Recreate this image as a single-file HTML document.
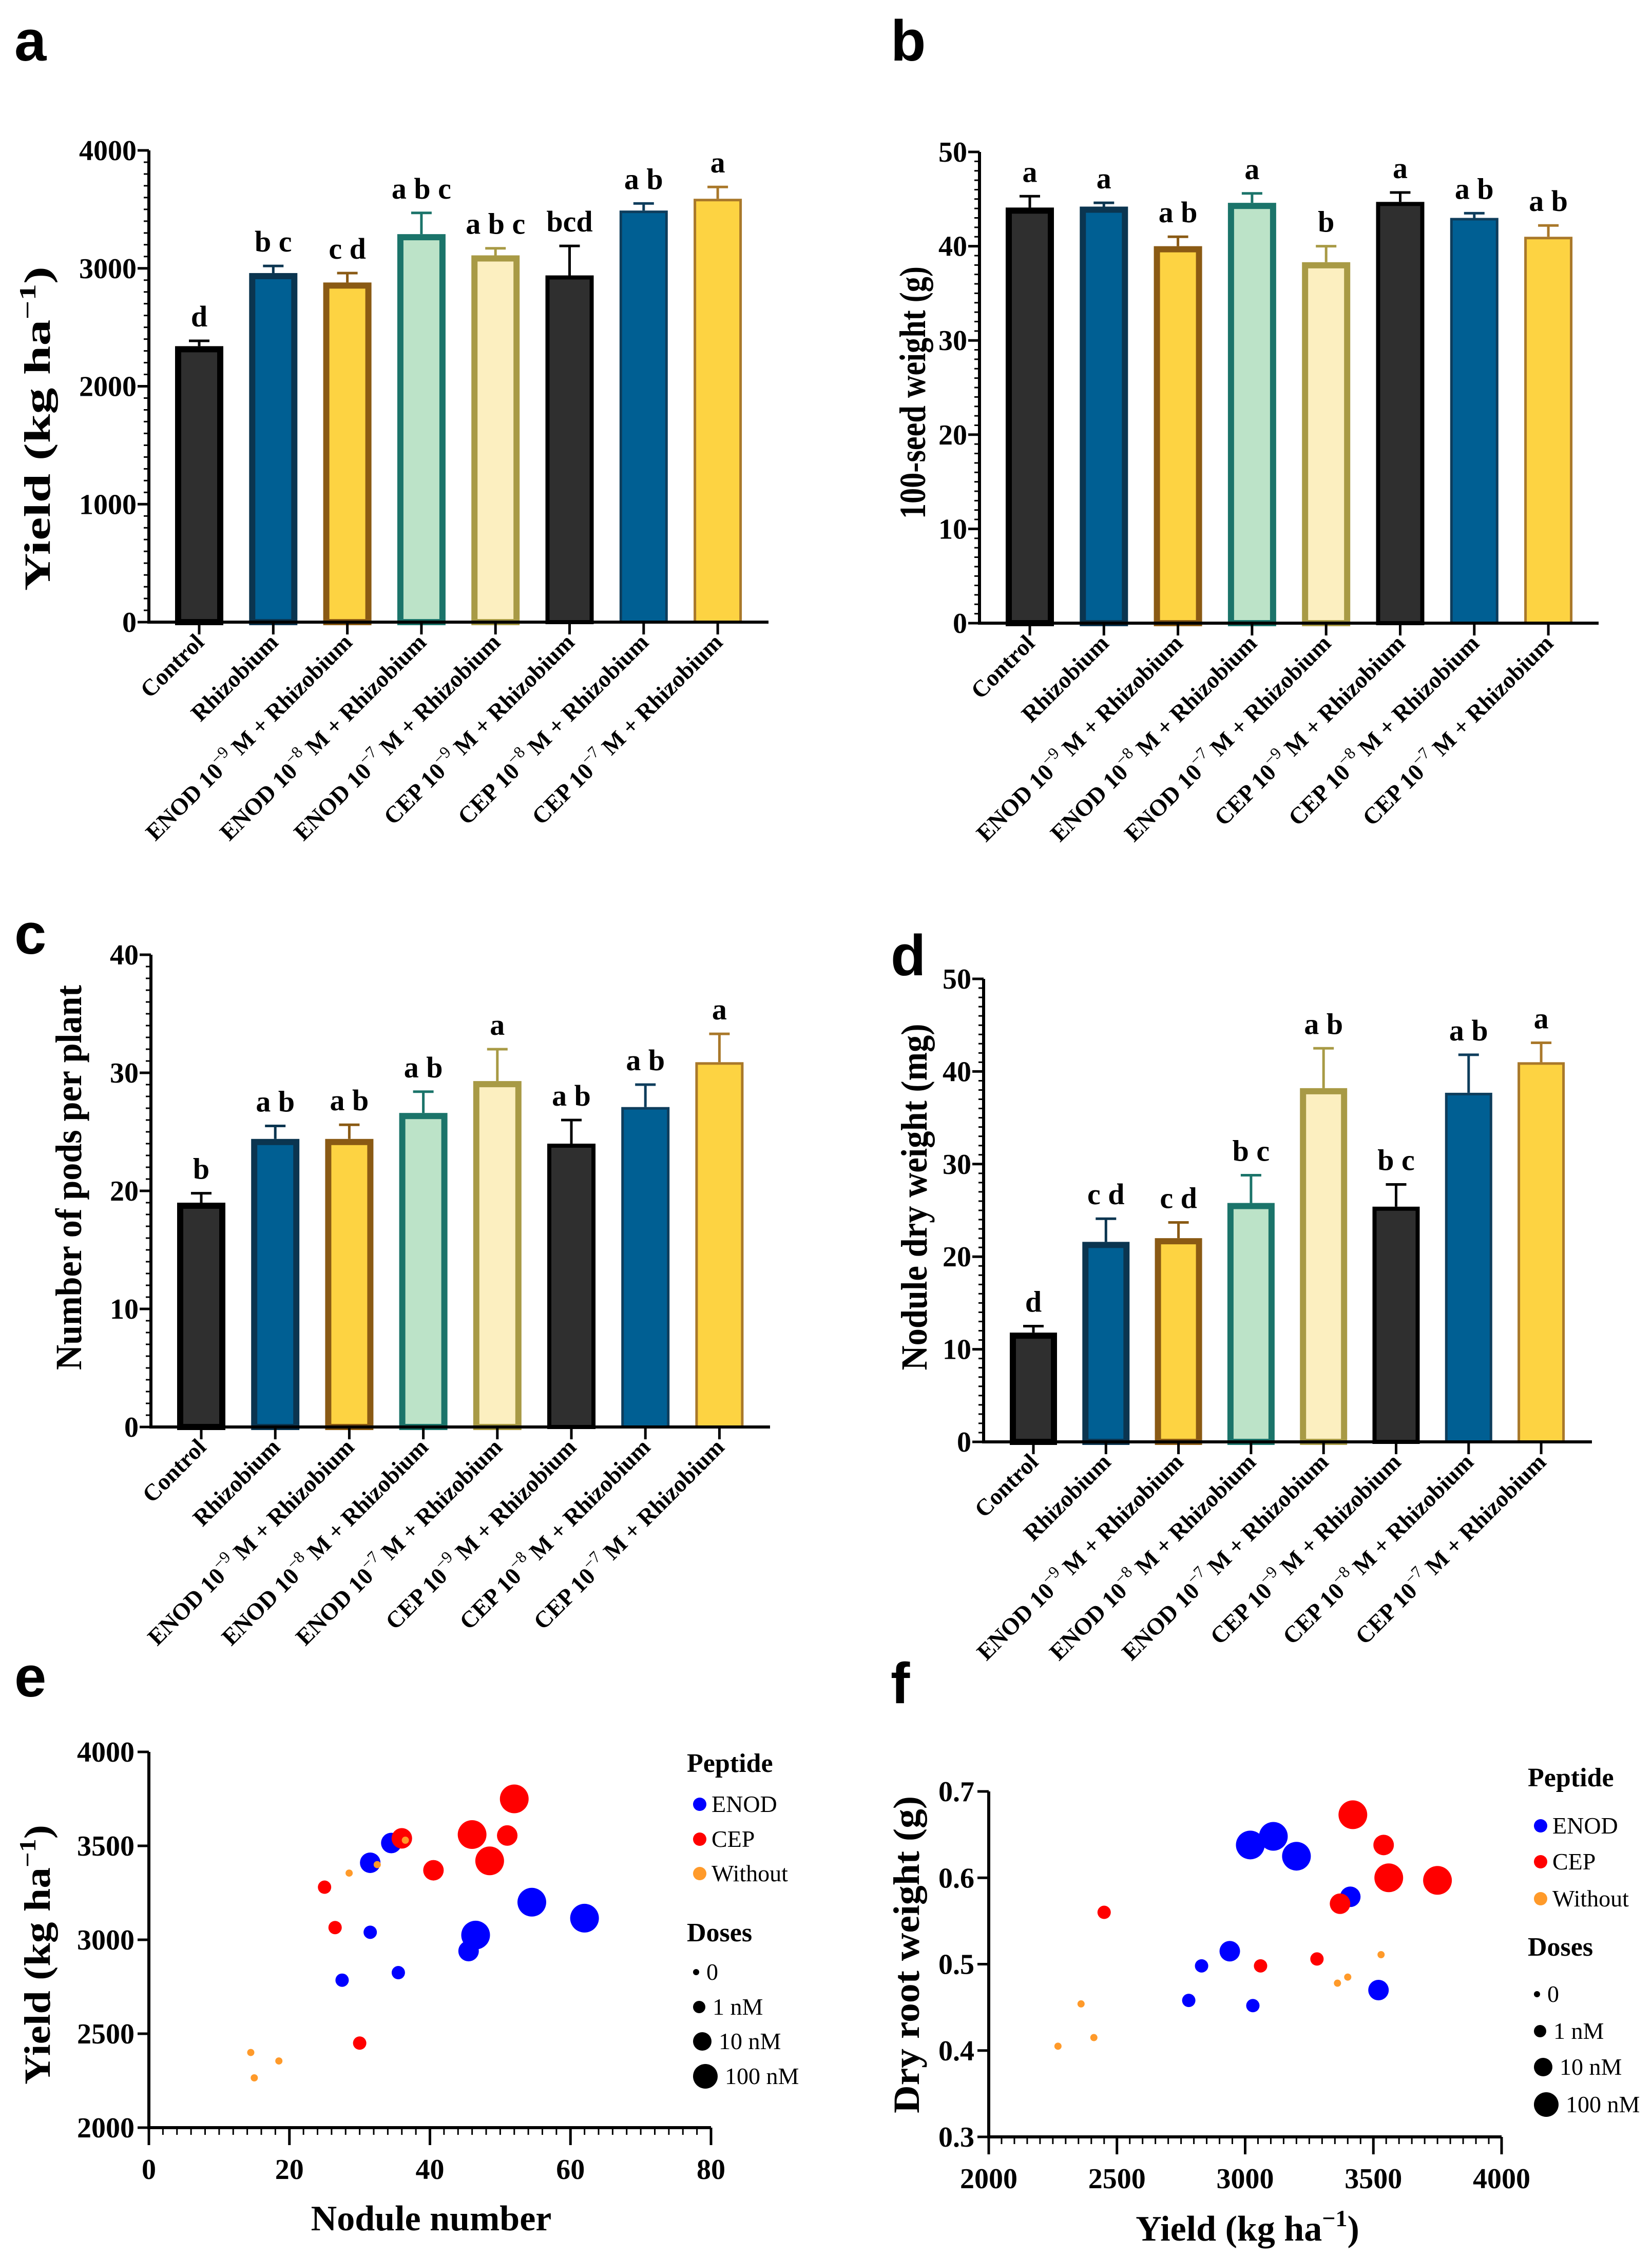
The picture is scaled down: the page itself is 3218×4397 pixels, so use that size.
<!DOCTYPE html>
<html><head><meta charset="utf-8"><style>
html,body{margin:0;padding:0;background:#fff;}
svg{display:block;}
text{font-family:"Liberation Serif",serif;}
</style></head><body>
<svg id="fig" xmlns="http://www.w3.org/2000/svg" width="3218" height="4397" viewBox="0 0 3218 4397"></svg>
<script>
// ---------- DATA ----------
const categories = ["Control","Rhizobium","ENOD|-9","ENOD|-8","ENOD|-7","CEP|-9","CEP|-8","CEP|-7"];
const yieldMeans = [2340,2960,2880,3290,3110,2940,3490,3590];
const yieldErr = [45,60,80,180,60,250,60,100];
const yieldLetters = ["d","b c","c d","a b c","a b c","bcd","a b","a"];
const seedMeans = [44.1,44.2,40.0,44.6,38.3,44.7,43.0,41.0];
const seedErr = [1.2,0.4,1.0,1.0,1.7,1.0,0.5,1.2];
const seedLetters = ["a","a","a b","a","b","a","a b","a b"];
const podMeans = [19.0,24.4,24.4,26.6,29.3,24.0,27.1,30.9];
const podErr = [0.8,1.1,1.2,1.8,2.7,2.0,1.9,2.4];
const podLetters = ["b","a b","a b","a b","a","a b","a b","a"];
const noduleMeans = [11.8,21.6,22.0,25.8,38.2,25.4,37.7,41.0];
const noduleErr = [0.7,2.5,1.7,3.0,4.3,2.4,4.1,2.1];
const noduleLetters = ["d","c d","c d","b c","a b","b c","a b","a"];
const yieldTicks = [0,1000,2000,3000,4000];
const seedTicks = [0,10,20,30,40,50];
const podTicks = [0,10,20,30,40];
const noduleTicks = [0,10,20,30,40,50];

// scatter e
const eNodule = [34.5,31.5,54.5,62,46.5,45.5,31.5,35.5,27.5, 52,46,51,36,48.5,40.5,25,26.5,30, 14.5,18.5,15,28.5,32.5,36.5];
const eYield  = [3515,3410,3200,3115,3025,2940,3040,2825,2785, 3750,3560,3555,3540,3420,3370,3280,3065,2450, 2400,2355,2265,3355,3400,3530];
const ePeptide = ["ENOD","ENOD","ENOD","ENOD","ENOD","ENOD","ENOD","ENOD","ENOD","CEP","CEP","CEP","CEP","CEP","CEP","CEP","CEP","CEP","Without","Without","Without","Without","Without","Without"];
const eDose = [10,10,100,100,100,10,1,1,1, 100,100,10,10,100,10,1,1,1, 0,0,0,0,0,0];
const eXTicks = [0,20,40,60,80];
const eYTicks = [2000,2500,3000,3500,4000];
// scatter f
const fYield = [3020,3110,3200,3410,2940,2830,2780,3030,3520, 3420,3540,3560,3750,3370,2450,3060,3280, 2360,2270,2410,3360,3400,3530];
const fRoot  = [0.638,0.648,0.625,0.578,0.515,0.498,0.458,0.452,0.470, 0.673,0.638,0.600,0.597,0.570,0.560,0.498,0.506, 0.454,0.405,0.415,0.478,0.485,0.511];
const fPeptide = ["ENOD","ENOD","ENOD","ENOD","ENOD","ENOD","ENOD","ENOD","ENOD","CEP","CEP","CEP","CEP","CEP","CEP","CEP","CEP","Without","Without","Without","Without","Without","Without"];
const fDose = [100,100,100,10,10,1,1,1,10, 100,10,100,100,10,1,1,1, 0,0,0,0,0,0];
const fXTicks = [2000,2500,3000,3500,4000];
const fYTicks = [0.3,0.4,0.5,0.6,0.7];

// ---------- STYLE ----------
const NS = "http://www.w3.org/2000/svg";
const svg = document.getElementById("fig");
const fills = ['#2f2f2f','#005f93','#fdd342','#bce3c8','#fcefc0','#2f2f2f','#005f93','#fdd342'];
const strokes = ['#000000','#0b3550','#8a5a14','#1b746a','#a89a45','#000000','#0e3d5c','#a9782a'];
const strokeW = [12,12,12,12,12,8,5,5];
const pepColor = {ENOD:'#0000ff', CEP:'#ff0000', Without:'#ff9a2a'};
const doseR = {0:7,1:13,10:20,100:28};

function mk(tag, attrs, parent){
  const el = document.createElementNS(NS, tag);
  for (const k in attrs) el.setAttribute(k, attrs[k]);
  (parent||svg).appendChild(el);
  return el;
}
function txt(str, attrs, parent){
  const t = mk('text', attrs, parent);
  t.textContent = str;
  return t;
}

function panelLetter(ch, x, y){
  const t = txt(ch, {x:x, y:y, 'font-size':112, 'font-weight':'bold', style:'font-family:"Liberation Sans",sans-serif'});
  
  
}

function barPanel(id, means, errs, letters, ticks, vmax, minorStep, g, ytitle){
  const grp = mk('g', {});
  
  
  const yS = v => g.yBot - (v/vmax)*(g.yBot - g.yTop);
  const xS = i => g.cx0 + i*g.step;
  for (let i=0;i<means.length;i++){
    const cx = xS(i), top = yS(means[i]), et = yS(means[i]+errs[i]);
    const sw = strokeW[i];
    const er = mk('path', {d:`M${cx},${top} V${et} M${cx-20},${et} H${cx+20}`, stroke:strokes[i], 'stroke-width':5, fill:'none'}, grp);
    
    
    const r = mk('rect', {x:cx-g.bw/2+sw/2, y:top+sw/2, width:g.bw-sw, height:Math.max(0,g.yBot-top-sw/2), fill:fills[i], stroke:strokes[i], 'stroke-width':sw}, grp);
    
    
    const lt = txt(letters[i], {x:cx, y:et-28, 'text-anchor':'middle', 'font-size':58, 'font-weight':'bold'}, grp);
    
    
    mk('line', {x1:cx, x2:cx, y1:g.yBot, y2:g.yBot+24, stroke:'#000','stroke-width':5}, grp);
    const c = categories[i].split('|');
    const lx = cx+12, ly = g.yBot+42;
    const cl = mk('text', {x:lx, y:ly, 'text-anchor':'end', 'font-size':46, 'font-weight':'bold', transform:`rotate(-45 ${lx} ${ly})`}, grp);
    
    
    if (c.length===1){ cl.textContent = c[0]; }
    else {
      const a = document.createElementNS(NS,'tspan'); a.textContent = c[0]+' 10'; cl.appendChild(a);
      const s = document.createElementNS(NS,'tspan'); s.textContent = '\u2212'+c[1].slice(1); s.setAttribute('dy','-20'); s.setAttribute('font-size','32'); s.setAttribute('font-weight','normal'); cl.appendChild(s);
      const b = document.createElementNS(NS,'tspan'); b.textContent = ' M + Rhizobium'; b.setAttribute('dy','20'); cl.appendChild(b);
    }
  }
  const ax = mk('path', {d:`M${g.x0},${g.yTop} V${g.yBot} H${g.x1}`, stroke:'#000','stroke-width':6, fill:'none'}, grp);
  
  
  let mp = '';
  for (let v=0; v<=vmax+1e-9; v+=minorStep) mp += `M${g.x0-10},${yS(v)} H${g.x0}`;
  mk('path', {d:mp, stroke:'#000','stroke-width':3}, grp);
  for (const v of ticks){
    mk('line', {x1:g.x0-22, x2:g.x0, y1:yS(v), y2:yS(v), stroke:'#000','stroke-width':5}, grp);
    const tl = txt(String(v), {x:g.x0-24, y:yS(v)+19, 'text-anchor':'end', 'font-size':56, 'font-weight':'bold'}, grp);
    
    
  }
  const yt = mk('text', {x:g.tx, y:g.ty, 'text-anchor':'middle', 'font-size':72, 'font-weight':'bold', textLength:g.tl, lengthAdjust:'spacingAndGlyphs', transform:`rotate(-90 ${g.tx} ${g.ty})`}, grp);
  
  
  yt.innerHTML = ytitle;
}

const supUnit = 'Yield (kg ha<tspan dy="-28" font-size="46">\u22121</tspan><tspan dy="28">)</tspan>';
barPanel('yield', yieldMeans, yieldErr, yieldLetters, yieldTicks, 4000, 100,
  {x0:290,x1:1497,yTop:293,yBot:1212,cx0:388,step:144.3,bw:94,tx:97,ty:835,tl:632}, supUnit);
barPanel('seed-weight', seedMeans, seedErr, seedLetters, seedTicks, 50, 1,
  {x0:1908,x1:3114,yTop:296,yBot:1214,cx0:2006,step:144.3,bw:94,tx:1802,ty:765,tl:492}, '100-seed weight (g)');
barPanel('pods', podMeans, podErr, podLetters, podTicks, 40, 1,
  {x0:294,x1:1500,yTop:1860,yBot:2780,cx0:392,step:144.2,bw:94,tx:158,ty:2294,tl:750}, 'Number of pods per plant');
barPanel('nodule-weight', noduleMeans, noduleErr, noduleLetters, noduleTicks, 50, 1,
  {x0:1916,x1:3101,yTop:1907,yBot:2809,cx0:2013,step:141.3,bw:92,tx:1805,ty:2332,tl:675}, 'Nodule dry weight (mg)');

function scatterPanel(id, xs, ys, peps, doses, xT, yT, g, xtitle, ytitle, leg, yFmt){
  const grp = mk('g', {});
  
  
  const xS = v => g.x0 + (v-xT[0])/(xT[xT.length-1]-xT[0])*(g.x1-g.x0);
  const yS = v => g.yBot - (v-yT[0])/(yT[yT.length-1]-yT[0])*(g.yBot-g.yTop);
  for (let i=0;i<xs.length;i++){
    const c = mk('circle', {cx:xS(xs[i]), cy:yS(ys[i]), r:doseR[doses[i]], fill:pepColor[peps[i]]}, grp);
    
    
  }
  const ax = mk('path', {d:`M${g.x0},${g.yTop} V${g.yBot} H${g.x1}`, stroke:'#000','stroke-width':6, fill:'none'}, grp);
  
  
  let mp='';
  for (let k=0;k<=40;k++){ const px = g.x0 + k/40*(g.x1-g.x0); mp += `M${px},${g.yBot} V${g.yBot+14}`; }
  mk('path', {d:mp, stroke:'#000','stroke-width':3}, grp);
  for (const v of xT){
    mk('line', {x1:xS(v), x2:xS(v), y1:g.yBot, y2:g.yBot+34, stroke:'#000','stroke-width':5}, grp);
    const tl = txt(String(v), {x:xS(v), y:g.yBot+100, 'text-anchor':'middle','font-size':56,'font-weight':'bold'}, grp);
    
    
  }
  for (const v of yT){
    mk('line', {x1:g.x0-22, x2:g.x0, y1:yS(v), y2:yS(v), stroke:'#000','stroke-width':5}, grp);
    const tl = txt(yFmt(v), {x:g.x0-28, y:yS(v)+19, 'text-anchor':'end','font-size':56,'font-weight':'bold'}, grp);
    
    
  }
  const xt = mk('text', {x:g.xtx, y:g.xty, 'text-anchor':'middle','font-size':70,'font-weight':'bold'}, grp);
  
  
  xt.innerHTML = xtitle;
  const yt = mk('text', {x:g.ytx, y:g.yty, 'text-anchor':'middle','font-size':72,'font-weight':'bold', textLength:g.ytl, lengthAdjust:'spacingAndGlyphs', transform:`rotate(-90 ${g.ytx} ${g.yty})`}, grp);
  
  
  yt.innerHTML = ytitle;
  const lg = mk('g', {}, grp);
  
  
  txt('Peptide', {x:leg.x-12, y:leg.ys[0], 'font-size':52, 'font-weight':'bold'}, lg);
  const pl = ['ENOD','CEP','Without'];
  for (let k=0;k<3;k++){
    const e = mk('g', {}, lg);
    
    
    mk('circle', {cx:leg.x+13, cy:leg.ys[k+1]-15, r:13, fill:pepColor[pl[k]]}, e);
    txt(pl[k], {x:leg.x+36, y:leg.ys[k+1], 'font-size':46}, e);
  }
  txt('Doses', {x:leg.x-12, y:leg.ys[4], 'font-size':52, 'font-weight':'bold'}, lg);
  const dl = ['0','1 nM','10 nM','100 nM'], dr=[6,12,18,24];
  for (let k=0;k<4;k++){
    const e = mk('g', {}, lg);
    
    
    mk('circle', {cx:leg.x+dr[k], cy:leg.ys[k+5]-15, r:dr[k], fill:'#000'}, e);
    txt(dl[k], {x:leg.x+14+2*dr[k], y:leg.ys[k+5], 'font-size':46}, e);
  }
}

scatterPanel('nodule-yield', eNodule, eYield, ePeptide, eDose, eXTicks, eYTicks,
  {x0:290,x1:1385,yTop:3413,yBot:4145,xtx:840,xty:4345,ytx:97,yty:3808,ytl:506},
  'Nodule number', 'Yield (kg ha<tspan dy="-28" font-size="46">\u22121</tspan><tspan dy="28">)</tspan>',
  {x:1350, ys:[3452,3530,3598,3665,3782,3857,3925,3992,4060]}, v=>String(v));
scatterPanel('yield-root', fYield, fRoot, fPeptide, fDose, fXTicks, fYTicks,
  {x0:1926,x1:2925,yTop:3490,yBot:4163,xtx:2430,xty:4365,ytx:1790,yty:3808,ytl:618},
  'Yield (kg ha<tspan dy="-28" font-size="46">\u22121</tspan><tspan dy="28">)</tspan>', 'Dry root weight (g)',
  {x:2988, ys:[3480,3572,3642,3714,3810,3900,3972,4042,4115]}, v=>v.toFixed(1));

panelLetter('a', 28, 118);
panelLetter('b', 1735, 118);
panelLetter('c', 28, 1858);
panelLetter('d', 1735, 1900);
panelLetter('e', 28, 3305);
panelLetter('f', 1735, 3318);
</script>
</body></html>
